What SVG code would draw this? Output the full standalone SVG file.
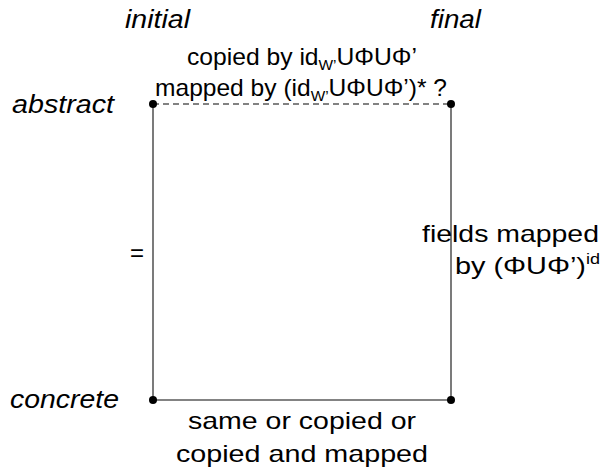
<svg xmlns="http://www.w3.org/2000/svg" width="603" height="471" viewBox="0 0 603 471">
  <style>
    text { font-family: "Liberation Sans", Arial, sans-serif; fill: #000; }
    .lbl { font-size: 24px; }
    .it { font-size: 26px; font-style: italic; }
    .small { font-size: 15px; }
    .mid { text-anchor: middle; }
    .edge { stroke: #5a5a5a; stroke-width: 1.6; fill: none; }
    .dash { stroke-dasharray: 6 4; }
    .pt { fill: #000; }
  </style>

  <!-- column and row headings -->
  <g id="headings">
    <text class="it" x="125" y="28" textLength="65" lengthAdjust="spacingAndGlyphs">initial</text>
    <text class="it" x="430" y="28" textLength="51" lengthAdjust="spacingAndGlyphs">final</text>
    <text class="it" x="12" y="113" textLength="102" lengthAdjust="spacingAndGlyphs">abstract</text>
    <text class="it" x="10" y="408" textLength="109" lengthAdjust="spacingAndGlyphs">concrete</text>
  </g>

  <!-- connectors between the four states -->
  <g id="connectors">
    <line class="edge dash" x1="153" y1="104" x2="451" y2="104"/>
    <line class="edge" x1="153" y1="104" x2="153" y2="400"/>
    <line class="edge" x1="451" y1="104" x2="451" y2="400"/>
    <line class="edge" x1="153" y1="400" x2="451" y2="400"/>
  </g>

  <!-- state nodes -->
  <g id="abstract-initial"><circle class="pt" cx="153" cy="104" r="4"/></g>
  <g id="abstract-final"><circle class="pt" cx="451" cy="104" r="4"/></g>
  <g id="concrete-initial"><circle class="pt" cx="153" cy="400" r="4"/></g>
  <g id="concrete-final"><circle class="pt" cx="451" cy="400" r="4"/></g>

  <!-- edge labels -->
  <g id="label-top">
    <text class="lbl" x="187" y="65" textLength="230" lengthAdjust="spacingAndGlyphs">copied by id<tspan class="small" dy="5">W’</tspan><tspan dy="-5">UΦUΦ’</tspan></text>
    <text class="lbl" x="155" y="96" textLength="292" lengthAdjust="spacingAndGlyphs">mapped by (id<tspan class="small" dy="5">W’</tspan><tspan dy="-5">UΦUΦ’)* ?</tspan></text>
  </g>
  <g id="label-left">
    <text class="lbl" x="130" y="261">=</text>
  </g>
  <g id="label-right">
    <text class="lbl" x="422" y="242" textLength="177" lengthAdjust="spacingAndGlyphs">fields mapped</text>
    <text class="lbl" x="455" y="274" textLength="145" lengthAdjust="spacingAndGlyphs">by (ΦUΦ’)<tspan class="small" dy="-10">id</tspan></text>
  </g>
  <g id="label-bottom">
    <text class="lbl" x="188" y="429" textLength="228" lengthAdjust="spacingAndGlyphs">same or copied or</text>
    <text class="lbl" x="176" y="462" textLength="252" lengthAdjust="spacingAndGlyphs">copied and mapped</text>
  </g>
</svg>
